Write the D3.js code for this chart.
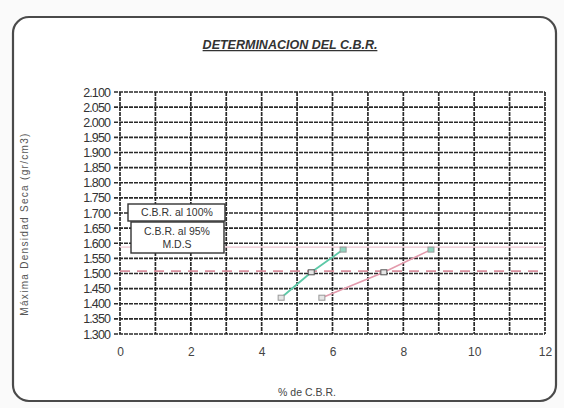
<!DOCTYPE html>
<html>
<head>
<meta charset="utf-8">
<script src="https://cdn.jsdelivr.net/npm/d3@7"></script>
<style>
  html, body { margin: 0; padding: 0; background: #fafafa; }
  svg { display: block; }
</style>
</head>
<body>
<svg id="chart" width="564" height="408"></svg>
<script>
// ---- data ----
const densities = [1.420, 1.504, 1.579];      // Máxima densidad seca of specimens
const cbrCurve1 = [4.55, 5.40, 6.30];         // C.B.R. curve 1 (teal)
const cbrCurve2 = [5.70, 7.45, 8.78];         // C.B.R. curve 2 (pink)
const mds100 = 1.587;                          // 100% M.D.S.
const mds95 = 1.508;                           // 95% M.D.S.
const yTicks = [1.300,1.350,1.400,1.450,1.500,1.550,1.600,1.650,1.700,1.750,1.800,1.850,1.900,1.950,2.000,2.050,2.100];
const xTicks = [0,2,4,6,8,10,12];
const xGrid = [0,1,2,3,4,5,6,7,8,9,10,11,12];
const legendLines = ["C.B.R. al 100%", "C.B.R. al 95%", "M.D.S"];
const titleText = "DETERMINACION DEL C.B.R.";
const xTitle = "% de C.B.R.";
const yTitle = "Máxima Densidad Seca (gr/cm3)";

const svg = d3.select("#chart");
const font = "'Liberation Sans', Arial, sans-serif";

// frame
svg.append("rect").attr("x", 13).attr("y", 17).attr("width", 543).attr("height", 384)
  .attr("rx", 16).attr("fill", "#fff").attr("stroke", "#4a4a4a").attr("stroke-width", 2.2);

const x = d3.scaleLinear().domain([0, 12]).range([120, 545]);
const y = d3.scaleLinear().domain([1.3, 2.1]).range([334, 92]);

// grid
const grid = svg.append("g");
grid.selectAll("line.h").data(yTicks).join("line")
  .attr("x1", x(0) - 6).attr("x2", x(12))
  .attr("y1", d => y(d)).attr("y2", d => y(d))
  .attr("stroke", "#2a2a2a").attr("stroke-width", 1.6).attr("stroke-dasharray", "4,1");
grid.selectAll("line.v").data(xGrid).join("line")
  .attr("y1", y(2.1)).attr("y2", y(1.3))
  .attr("x1", d => x(d)).attr("x2", d => x(d))
  .attr("stroke", "#2a2a2a").attr("stroke-width", 1.7).attr("stroke-dasharray", "4,1");

// y axis labels
svg.append("g").attr("transform", `translate(${x(0) - 7},0)`)
  .call(d3.axisLeft(y).tickValues(yTicks).tickSize(0).tickPadding(3)
    .tickFormat(d => d3.format(".3f")(d)))
  .call(g => g.select(".domain").remove())
  .selectAll("text").attr("font-family", font).attr("font-size", 12.5)
  .attr("fill", "#333").attr("letter-spacing", "-0.9");

// x axis labels
svg.append("g").attr("transform", `translate(0,${y(1.3)})`)
  .call(d3.axisBottom(x).tickValues(xTicks).tickSize(0).tickPadding(13))
  .call(g => g.select(".domain").remove())
  .selectAll("text").attr("font-family", font).attr("font-size", 12).attr("fill", "#444");

// 100% MDS line (faint)
svg.append("line").attr("x1", x(0)).attr("x2", x(12))
  .attr("y1", y(mds100)).attr("y2", y(mds100))
  .attr("stroke", "#ecc4d0").attr("stroke-width", 1.2);
// 95% MDS dashed line
svg.append("line").attr("x1", x(0)).attr("x2", x(12))
  .attr("y1", y(mds95)).attr("y2", y(mds95))
  .attr("stroke", "#d8909f").attr("stroke-width", 1.8).attr("stroke-dasharray", "10,7");

// curves
const line = d3.line().x(d => x(d[0])).y(d => y(d[1]));
const c1 = cbrCurve1.map((v, i) => [v, densities[i]]);
const c2 = cbrCurve2.map((v, i) => [v, densities[i]]);
svg.append("path").datum(c2).attr("d", line).attr("fill", "none")
  .attr("stroke", "#e39aac").attr("stroke-width", 1.6);
svg.append("path").datum(c1).attr("d", line).attr("fill", "none")
  .attr("stroke", "#5cc9a7").attr("stroke-width", 1.8);

// markers
[c1, c2].forEach((c, k) => {
  svg.append("g").selectAll("rect").data(c).join("rect")
    .attr("x", d => x(d[0]) - 3).attr("y", d => y(d[1]) - 2.5)
    .attr("width", 6).attr("height", 5)
    .attr("fill", (d, i) => i === 2 ? "#8fd6bf" : "#e6e6e6")
    .attr("stroke", (d, i) => i === 1 ? "#555" : "#999").attr("stroke-width", 1);
});

// legend boxes
const lg = svg.append("g");
lg.append("rect").attr("x", 128).attr("y", 204).attr("width", 97).attr("height", 17)
  .attr("fill", "#fff").attr("stroke", "#333").attr("stroke-width", 1.4);
lg.append("rect").attr("x", 131).attr("y", 222).attr("width", 93).attr("height", 31)
  .attr("fill", "#fff").attr("stroke", "#333").attr("stroke-width", 1.4);
lg.selectAll("text").data(legendLines).join("text")
  .attr("x", 177).attr("y", (d, i) => [216, 235, 248][i])
  .attr("text-anchor", "middle").attr("font-family", font).attr("font-size", 10.5)
  .attr("fill", "#333").text(d => d);

// title
svg.append("text").attr("x", 290).attr("y", 49).attr("text-anchor", "middle")
  .attr("font-family", font).attr("font-size", 12.5).attr("font-weight", "bold")
  .attr("font-style", "italic").attr("text-decoration", "underline")
  .attr("fill", "#333").text(titleText);

// axis titles
svg.append("text").attr("x", 307).attr("y", 396).attr("text-anchor", "middle")
  .attr("font-family", font).attr("font-size", 10.5).attr("fill", "#444").text(xTitle);
svg.append("text").attr("transform", "translate(28,224) rotate(-90)")
  .attr("text-anchor", "middle").attr("font-family", font).attr("font-size", 10)
  .attr("letter-spacing", "1.3").attr("fill", "#555").text(yTitle);
</script>
</body>
</html>
